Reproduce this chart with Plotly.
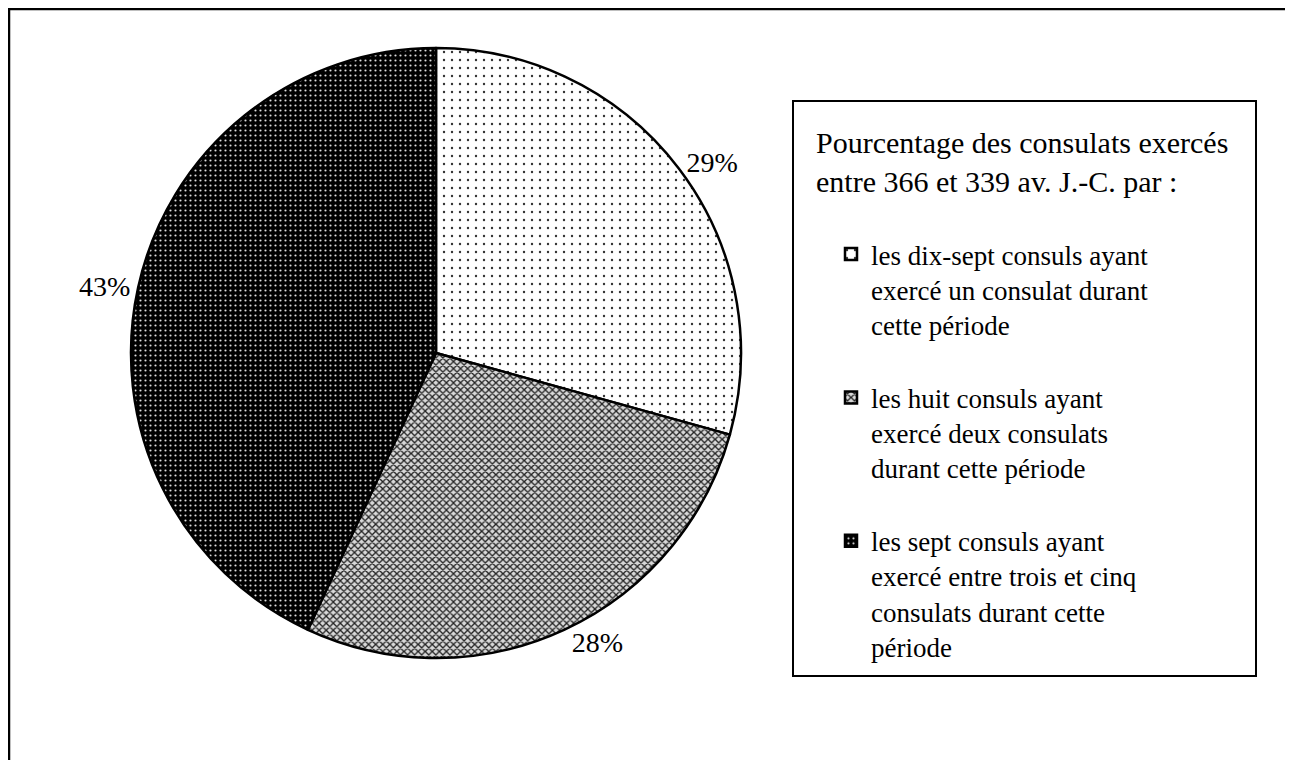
import plotly.graph_objects as go

# Data: number of consulats held between 366 and 339 BC
categories = [
    "les dix-sept consuls ayant<br>exercé un consulat durant<br>cette période<br> ",
    "les huit consuls ayant<br>exercé deux consulats<br>durant cette période<br> ",
    "les sept consuls ayant<br>exercé entre trois et cinq<br>consulats durant cette<br>période",
]
values = [17, 16, 25]
legend_title = "Pourcentage des consulats exercés<br>entre 366 et 339 av. J.-C. par :"

# page body has an 8px margin; figure sized to fit inside the window
OFF = 8
W, H = 1285, 752
FONT = "Liberation Serif"


def px(x):
    return (x - OFF) / W


def py(y):
    return 1 - (y - OFF) / H


fig = go.Figure()
fig.add_trace(go.Pie(
    labels=categories,
    values=values,
    sort=False,
    direction="clockwise",
    rotation=0,
    texttemplate="%{percent:.0%}",
    textposition="outside",
    textfont=dict(family=FONT, size=28, color="black"),
    marker=dict(
        colors=["white", "#cfcfcf", "black"],
        line=dict(color="black", width=2.5),
        pattern=dict(
            shape=[".", "x", "."],
            fgcolor=["#333333", "#222222", "#dddddd"],
            bgcolor=["white", "#d8d8d8", "black"],
            size=[8, 5, 5],
            solidity=[0.07, 0.45, 0.15],
            fillmode="replace",
        ),
    ),
    domain=dict(x=[px(131), px(741)], y=[py(658), py(48)]),
    hoverinfo="skip",
    showlegend=True,
))

# outer frame
fig.add_shape(type="rect", xref="paper", yref="paper",
              x0=px(9), x1=px(1288), y0=-0.05, y1=py(9),
              line=dict(color="black", width=2.5), fillcolor="rgba(0,0,0,0)")
# legend box
fig.add_shape(type="rect", xref="paper", yref="paper",
              x0=px(793), x1=px(1256), y0=py(676), y1=py(101),
              line=dict(color="black", width=2), fillcolor="rgba(0,0,0,0)")

fig.add_annotation(xref="paper", yref="paper", x=px(814), y=py(124),
                   xanchor="left", yanchor="top", align="left", showarrow=False,
                   text=legend_title,
                   font=dict(family=FONT, size=30, color="black"))

fig.update_layout(
    width=W, height=H,
    margin=dict(l=0, r=0, t=0, b=0),
    paper_bgcolor="white",
    plot_bgcolor="white",
    font=dict(family=FONT, color="black"),
    legend=dict(
        x=px(831), y=py(230), xanchor="left", yanchor="top",
        font=dict(family=FONT, size=27, color="black"),
        valign="top",
        bgcolor="rgba(0,0,0,0)",
        borderwidth=0,
        itemclick=False, itemdoubleclick=False,
    ),
)

fig.write_html("out.html")
